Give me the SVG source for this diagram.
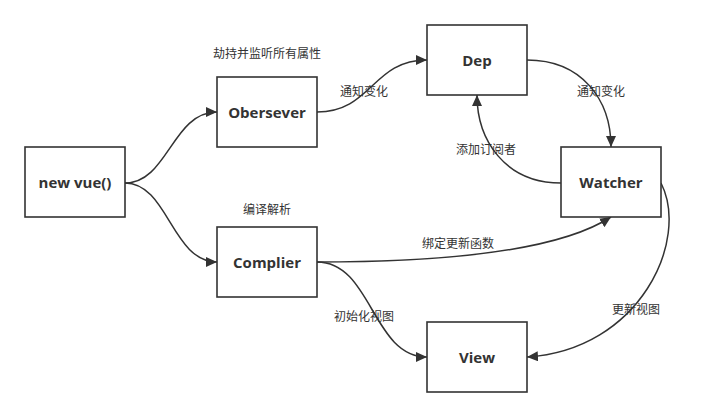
<svg xmlns="http://www.w3.org/2000/svg" width="728" height="417" viewBox="0 0 728 417">
<defs>
<marker id="arr" markerUnits="userSpaceOnUse" markerWidth="12" markerHeight="10" refX="11" refY="5" orient="auto">
<path d="M0,0 L11,5 L0,10 Z" fill="#333"/>
</marker>
<style>
.box{fill:#fff;stroke:#333;stroke-width:1.6}
.bt{font-family:"Open Sans","DejaVu Sans",sans-serif;font-weight:700;font-size:15px;fill:#333;text-anchor:middle;dominant-baseline:central}
.lb{font-family:"Noto Sans CJK SC",sans-serif;font-size:12px;fill:#333;text-anchor:middle;dominant-baseline:central}
.e{fill:none;stroke:#333;stroke-width:1.5;marker-end:url(#arr)}
</style>
</defs>
<rect width="728" height="417" fill="#fff"/>
<g id="connectors">
<path class="e" d="M125,183 C168,183 172,112 217,112"/>
<path class="e" d="M125,183 C168,183 172,262 217,262"/>
<path class="e" d="M317,112 C372,112 372,60 427,60"/>
<path class="e" d="M527,60 C582,60 611,100 611,147"/>
<path class="e" d="M561,183 C505,183 477,140 477,95"/>
<path class="e" d="M317,262 C450,262 560,250 611,217"/>
<path class="e" d="M317,262 C372,262 372,357 427,357"/>
<path class="e" d="M661,183 C690,240 640,350 527,357"/>
</g>
<g id="labels">
<text class="lb" x="267" y="52">劫持并监听所有属性</text>
<text class="lb" x="267" y="208">编译解析</text>
<text class="lb" x="364" y="90">通知变化</text>
<text class="lb" x="601" y="90">通知变化</text>
<text class="lb" x="486" y="148">添加订阅者</text>
<text class="lb" x="458" y="242">绑定更新函数</text>
<text class="lb" x="364" y="315">初始化视图</text>
<text class="lb" x="636" y="308">更新视图</text>
</g>
<g id="node-newvue"><rect class="box" x="25" y="147" width="100" height="70"/><text class="bt" x="75" y="182">new vue()</text></g>
<g id="node-obersever"><rect class="box" x="217" y="77" width="100" height="70"/><text class="bt" x="267" y="112">Obersever</text></g>
<g id="node-dep"><rect class="box" x="427" y="25" width="100" height="70"/><text class="bt" x="477" y="60">Dep</text></g>
<g id="node-watcher"><rect class="box" x="561" y="147" width="100" height="70"/><text class="bt" x="611" y="182">Watcher</text></g>
<g id="node-complier"><rect class="box" x="217" y="227" width="100" height="70"/><text class="bt" x="267" y="262">Complier</text></g>
<g id="node-view"><rect class="box" x="427" y="322" width="100" height="70"/><text class="bt" x="477" y="357">View</text></g>
</svg>
